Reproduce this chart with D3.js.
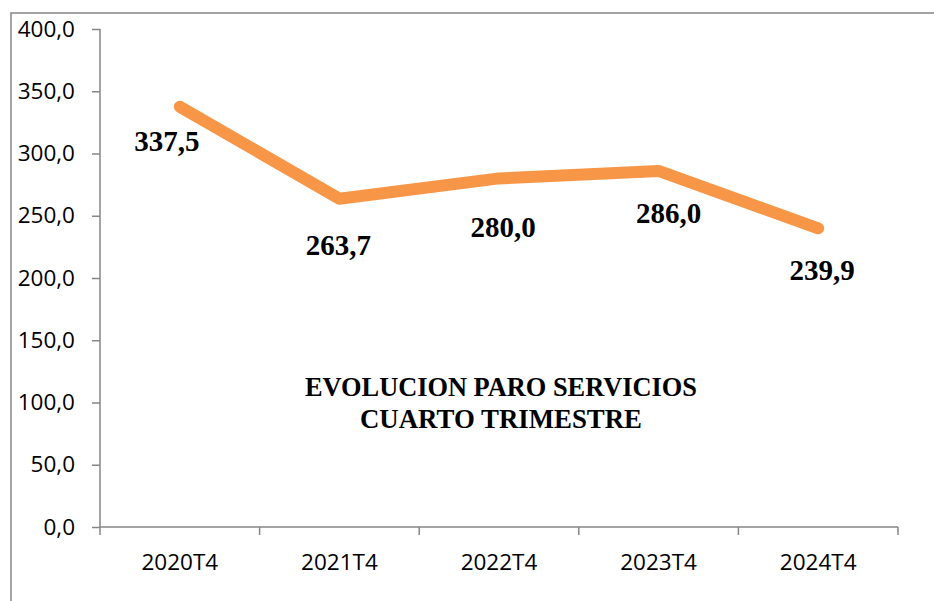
<!DOCTYPE html>
<html>
<head>
<meta charset="utf-8">
<script src="https://cdn.jsdelivr.net/npm/d3@7"></script>
<style>
  body { margin: 0; background: #fff; }
</style>
</head>
<body>
<div id="chart"></div>
<script>
// data
const periods = ["2020T4", "2021T4", "2022T4", "2023T4", "2024T4"];
const paro = [337.5, 263.7, 280.0, 286.0, 239.9];
const yTicks = [0, 50, 100, 150, 200, 250, 300, 350, 400];
const titleLines = ["EVOLUCION PARO SERVICIOS", "CUARTO TRIMESTRE"];

// label nudges (px) relative to each point
const labelDx = [-13, -1, 4, 10, 4];
const labelDy = [34, 46, 48, 42, 42];

const width = 934, height = 601;
const margin = {top: 29, right: 36, bottom: 74, left: 100};
const axisColor = "#868686";

const svg = d3.select("#chart").append("svg")
    .attr("width", width)
    .attr("height", height);

// outer frame (runs off the right/bottom edge)
svg.append("rect")
    .attr("x", 11).attr("y", 13)
    .attr("width", width + 20).attr("height", height + 20)
    .attr("fill", "none")
    .attr("stroke", axisColor)
    .attr("stroke-width", 1.5);

const x = d3.scaleBand()
    .domain(periods)
    .range([margin.left, width - margin.right]);

const y = d3.scaleLinear()
    .domain([0, 400])
    .range([height - margin.bottom, margin.top]);

const fmt = v => d3.format(".1f")(v).replace(".", ",");

// y axis
const yAxis = svg.append("g")
    .attr("transform", `translate(${margin.left},0)`)
    .call(d3.axisLeft(y).tickValues(yTicks).tickSize(8).tickPadding(17).tickFormat(fmt));
yAxis.selectAll("text")
    .style("font-family", "'Open Sans', sans-serif")
    .style("font-size", "22.5px")
    .attr("fill", "#000");

// x axis, ticks at band edges
const xAxis = svg.append("g")
    .attr("transform", `translate(0,${height - margin.bottom})`)
    .call(d3.axisBottom(x).tickSize(0).tickPadding(27));
xAxis.selectAll("text")
    .style("font-family", "'Open Sans', sans-serif")
    .style("font-size", "22.5px")
    .attr("fill", "#000");

const edges = periods.map(p => x(p)).concat([x.range()[1]]);
xAxis.selectAll(".edge")
    .data(edges)
    .join("line")
    .attr("x1", d => d).attr("x2", d => d)
    .attr("y1", 0).attr("y2", 8);

svg.selectAll(".domain, .tick line, g line")
    .attr("stroke", axisColor)
    .attr("stroke-width", 1.5);
xAxis.select(".domain").attr("d", `M${margin.left},0H${width - margin.right}`);
yAxis.select(".domain").attr("d", `M0,${y(400)}V${y(0)}`);

// line
const line = d3.line()
    .x((d, i) => x(periods[i]) + x.bandwidth() / 2)
    .y(d => y(d));

svg.append("path")
    .datum(paro)
    .attr("d", line)
    .attr("fill", "none")
    .attr("stroke", "#F79646")
    .attr("stroke-width", 12)
    .attr("stroke-linecap", "round")
    .attr("stroke-linejoin", "round");

// value labels
svg.append("g")
    .selectAll("text")
    .data(paro)
    .join("text")
    .attr("x", (d, i) => x(periods[i]) + x.bandwidth() / 2 + labelDx[i])
    .attr("y", (d, i) => y(d) + labelDy[i])
    .attr("dy", "0.35em")
    .attr("text-anchor", "middle")
    .style("font-family", "'Liberation Serif', serif")
    .style("font-weight", "bold")
    .style("font-size", "29px")
    .text(fmt);

// title inside plot
const titleLen = [392, 282];
svg.append("g")
    .selectAll("text")
    .data(titleLines)
    .join("text")
    .attr("x", 501)
    .attr("y", (d, i) => 396 + i * 32)
    .attr("text-anchor", "middle")
    .attr("textLength", (d, i) => titleLen[i])
    .attr("lengthAdjust", "spacingAndGlyphs")
    .style("font-family", "'Liberation Serif', serif")
    .style("font-weight", "bold")
    .style("font-size", "28px")
    .text(d => d);
</script>
</body>
</html>
